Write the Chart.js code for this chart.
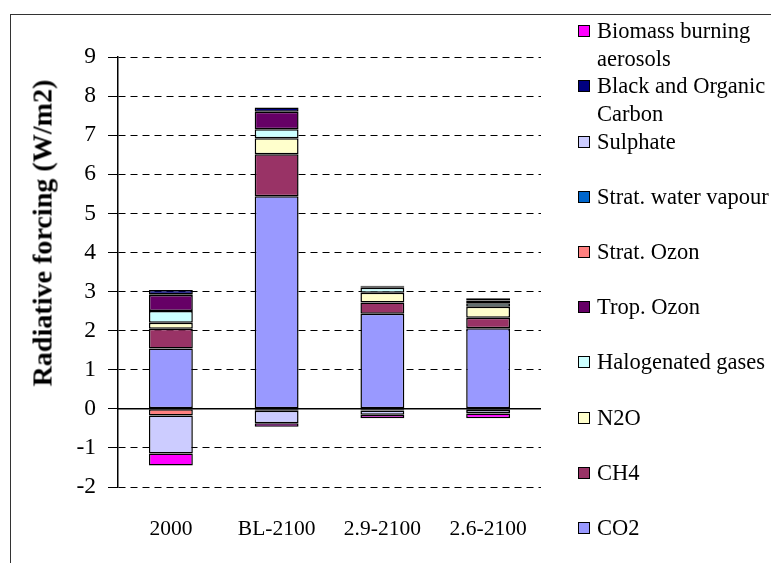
<!DOCTYPE html>
<html>
<head>
<meta charset="utf-8">
<script src="https://cdn.jsdelivr.net/npm/chart.js@4/dist/chart.umd.min.js"></script>
<style>
    body { margin: 0; background: #fff; }
    #wrap { position: relative; width: 771px; height: 563px; overflow: hidden; font-family: "Liberation Serif", "Times New Roman", serif; }
    #frame { position: absolute; left: 10px; top: 14px; width: 800px; height: 600px; border-left: 1.5px solid #333; border-top: 1.5px solid #333; }
    #chart { position: absolute; left: 0; top: 0; }
    #ytitle { position: absolute; left: 43px; top: 233px; transform: translate(-50%, -50%) rotate(-90deg) scaleX(1.06); white-space: nowrap; font-weight: bold; font-size: 26.5px; color: #000; }
    .leg { position: absolute; left: 597px; width: 180px; font-size: 22.5px; line-height: 27.5px; color: #000; }
    .leg .box { position: absolute; left: -19px; top: 8px; width: 10px; height: 10px; border: 1.5px solid #000; }
</style>
</head>
<body>
<div id="wrap">
    <div id="frame"></div>
    <canvas id="chart" width="771" height="563"></canvas>
    <div id="ytitle">Radiative forcing (W/m2)</div>
    <div id="legend"></div>
</div>
<script>
const categories = ['2000', 'BL-2100', '2.9-2100', '2.6-2100'];
const yTicks = [-2, -1, 0, 1, 2, 3, 4, 5, 6, 7, 8, 9];

const co2 = [1.54, 5.44, 2.43, 2.06];
const ch4 = [0.51, 1.07, 0.29, 0.27];
const n2o = [0.15, 0.41, 0.25, 0.28];
const halogenated = [0.30, 0.23, 0.13, 0.09];
const tropOzone = [0.41, 0.45, 0.02, 0.07];
const stratOzone = [-0.17, -0.05, -0.04, -0.03];
const stratWater = [0.02, 0.00, 0.00, 0.00];
const sulphate = [-0.97, -0.32, -0.11, -0.09];
const blackCarbon = [0.11, 0.11, 0.03, 0.06];
const biomass = [-0.31, -0.09, -0.09, -0.12];

// stacking order, bottom first (legend shows it reversed)
const series = [
    { label: 'CO2', data: co2, color: '#9999FF' },
    { label: 'CH4', data: ch4, color: '#993366' },
    { label: 'N2O', data: n2o, color: '#FFFFCC' },
    { label: 'Halogenated gases', data: halogenated, color: '#CCFFFF' },
    { label: 'Trop. Ozon', data: tropOzone, color: '#660066' },
    { label: 'Strat. Ozon', data: stratOzone, color: '#FF8080' },
    { label: 'Strat. water vapour', data: stratWater, color: '#0066CC' },
    { label: 'Sulphate', data: sulphate, color: '#CCCCFF' },
    { label: 'Black and Organic Carbon', data: blackCarbon, color: '#000080' },
    { label: 'Biomass burning aerosols', data: biomass, color: '#FF00FF' }
];

const zeroLine = {
    id: 'zeroLine',
    beforeDatasetsDraw(chart) {
        const y = chart.scales.y.getPixelForValue(0);
        const ctx = chart.ctx;
        ctx.save();
        ctx.strokeStyle = '#000';
        ctx.lineWidth = 1.5;
        ctx.beginPath();
        ctx.moveTo(chart.chartArea.left, y);
        ctx.lineTo(chart.chartArea.right, y);
        ctx.stroke();
        ctx.restore();
    }
};

new Chart(document.getElementById('chart'), {
    type: 'bar',
    data: {
        labels: categories,
        datasets: series.map(s => ({
            label: s.label,
            data: s.data,
            backgroundColor: s.color,
            borderColor: '#000',
            borderWidth: 1.5,
            borderSkipped: false,
            barPercentage: 0.415,
            categoryPercentage: 1
        }))
    },
    options: {
        responsive: false,
        animation: false,
        layout: { padding: { left: 0, top: 57, right: 230, bottom: 0 } },
        plugins: { legend: { display: false }, tooltip: { enabled: false } },
        scales: {
            x: {
                stacked: true,
                grid: { display: false, drawTicks: false },
                border: { display: false },
                ticks: { color: '#000', padding: 29, font: { family: 'Liberation Serif', size: 21.5 } },
                afterFit: scale => { scale.height = 76; }
            },
            y: {
                stacked: true,
                min: -2,
                max: 9,
                afterBuildTicks: scale => { scale.ticks = yTicks.map(v => ({ value: v })); },
                grid: {
                    color: ctx => (ctx.tick && ctx.tick.value === 0) ? 'rgba(0,0,0,0)' : '#000',
                    tickColor: '#000',
                    tickLength: 10,
                    lineWidth: 1
                },
                border: { display: true, color: '#000', width: 1.5, dash: [7, 5] },
                ticks: { color: '#000', padding: 12, font: { family: 'Liberation Serif', size: 23.5 } },
                afterFit: scale => { scale.width = 118; }
            }
        }
    },
    plugins: [zeroLine]
});

// legend, top to bottom = reverse of stacking order
const legendEl = document.getElementById('legend');
series.slice().reverse().forEach((s, i) => {
    const item = document.createElement('div');
    item.className = 'leg';
    item.style.top = (31 + i * 55.2 - 13.75) + 'px';
    item.innerHTML = '<span class="box" style="background:' + s.color + '"></span>' + s.label;
    legendEl.appendChild(item);
});
</script>
</body>
</html>
